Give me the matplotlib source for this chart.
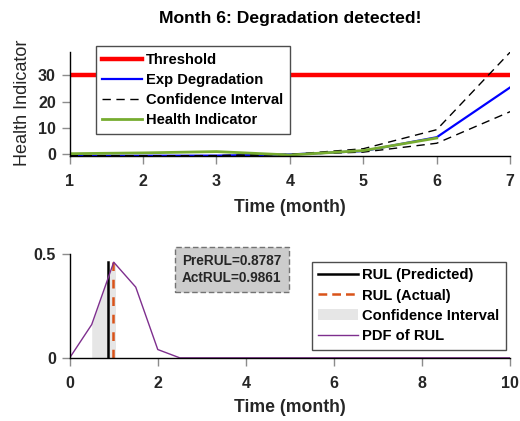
import matplotlib.pyplot as plt
import numpy as np
from matplotlib.patches import Patch
from matplotlib.lines import Line2D

plt.rcParams["font.family"] = ["Liberation Sans", "DejaVu Sans"]

# Górny wykres: degradacja w czasie
months = [1, 2, 3, 4, 5, 6, 7]
threshold = 30
exp_degradation = [-0.8, -0.8, -0.75, -0.3, 1.0, 6.3, 25.4]
ci_upper = [-0.8, -0.8, -0.75, -0.3, 1.9, 9.2, 38.9]
ci_lower = [-0.8, -0.8, -0.75, -0.3, 0.6, 4.0, 16.1]
hi_months = [1, 2, 3, 4, 5, 6]
health_indicator = [0.0, 0.3, 0.8, -0.5, 1.2, 6.0]

# Dolny wykres: rozkład RUL
pdf_x = [0, 0.5, 1.0, 1.5, 2.0, 2.5, 10]
pdf_y = [0, 0.16, 0.46, 0.34, 0.04, 0, 0]
rul_pred = 0.8787
rul_act = 0.9861
ci_low, ci_high = 0.5, 1.04

GREEN = (0.466, 0.674, 0.188)
ORANGE = (0.85, 0.325, 0.098)
PURPLE = (0.494, 0.184, 0.556)
TXT = (0.15, 0.15, 0.15)

fig = plt.figure(figsize=(5.2, 4.21), dpi=100)
ax1 = fig.add_axes([0.134, 0.630, 0.847, 0.246])
ax2 = fig.add_axes([0.134, 0.150, 0.847, 0.247])


def style(ax):
    for s in ("top", "right"):
        ax.spines[s].set_visible(False)
    for s in ("left", "bottom"):
        ax.spines[s].set_color("black")
        ax.spines[s].set_linewidth(1)
    ax.tick_params(direction="out", length=6, width=1, color="0.55",
                   labelsize=11.5, labelcolor=TXT)
    ax.tick_params(axis="x", pad=7)
    ax.tick_params(axis="y", pad=4)
    for lab in ax.get_xticklabels() + ax.get_yticklabels():
        lab.set_fontweight("bold")


def legend_at(ax, handles, labels, x_px, y_px):
    leg = ax.legend(handles, labels, loc="upper left",
                    bbox_to_anchor=(x_px / 520, 1 - y_px / 421),
                    bbox_transform=fig.transFigure, fancybox=False,
                    prop={"weight": "bold", "size": 10.6}, handlelength=2.7,
                    handletextpad=0.25, labelspacing=0.42, borderpad=0.45,
                    borderaxespad=0, framealpha=1)
    leg.get_frame().set_edgecolor("0.3")
    leg.get_frame().set_linewidth(1)
    return leg


# --- górny ---
ax1.plot([months[0], months[-1]], [threshold, threshold], color="red", lw=3.2)
ax1.plot(months, exp_degradation, color="blue", lw=1.6)
ax1.plot(months, ci_upper, color="black", lw=1, dashes=(6, 4))
ax1.plot(months, ci_lower, color="black", lw=1, dashes=(6, 4))
ax1.plot(hi_months, health_indicator, color=GREEN, lw=2)
ax1.set_xlim(1, 7)
ax1.set_ylim(-0.8, 38.9)
ax1.set_xticks(months)
ax1.set_yticks([0, 10, 20, 30])
style(ax1)
ax1.set_title("Month 6: Degradation detected!", fontsize=12.6,
              fontweight="bold", pad=21, color="black")
ax1.set_xlabel("Time (month)", fontsize=12.7, fontweight="bold", color=TXT)
ax1.xaxis.set_label_coords(0.5, -0.42)
ax1.set_ylabel("Health Indicator", fontsize=13, color=TXT)
ax1.yaxis.set_label_coords(-0.088, 0.51)

h1 = [
    Line2D([], [], color="red", lw=3.2),
    Line2D([], [], color="blue", lw=1.6),
    Line2D([], [], color="black", lw=1, dashes=(6, 4)),
    Line2D([], [], color=GREEN, lw=2),
]
legend_at(ax1, h1, ["Threshold", "Exp Degradation", "Confidence Interval",
                    "Health Indicator"], 95.7, 46.3)

# --- dolny ---
xs = np.linspace(ci_low, ci_high, 50)
ax2.fill_between(xs, 0, np.interp(xs, pdf_x, pdf_y), color="0.9", lw=0)
peak = max(pdf_y)
ax2.plot([rul_pred, rul_pred], [0, peak], color="black", lw=1.8)
ax2.plot([rul_act, rul_act], [0, peak], color=ORANGE, lw=1.8, dashes=(3.5, 3.5))
ax2.plot(pdf_x, pdf_y, color=PURPLE, lw=1)
ax2.set_xlim(0, 10)
ax2.set_ylim(0, 0.5)
ax2.set_xticks([0, 2, 4, 6, 8, 10])
ax2.set_yticks([0, 0.5])
ax2.set_yticklabels(["0", "0.5"])
style(ax2)
ax2.set_xlabel("Time (month)", fontsize=12.7, fontweight="bold", color=TXT)
ax2.xaxis.set_label_coords(0.5, -0.40)

ax2.text(0.255, 0.85, f"PreRUL={rul_pred:.4f}\nActRUL={rul_act:.4f}",
         transform=ax2.transAxes, fontsize=9.8, fontweight="bold", color=TXT,
         ha="left", va="center", linespacing=1.25,
         bbox=dict(boxstyle="square,pad=0.55", fc="0.8", ec="0.45",
                   ls=(0, (4, 2)), lw=1))

h2 = [
    Line2D([], [], color="black", lw=1.8),
    Line2D([], [], color=ORANGE, lw=1.8, dashes=(3.5, 2)),
    Patch(facecolor="0.9", edgecolor="none"),
    Line2D([], [], color=PURPLE, lw=1),
]
legend_at(ax2, h2, ["RUL (Predicted)", "RUL (Actual)", "Confidence Interval",
                    "PDF of RUL"], 311.7, 261.7)

fig.savefig("out.png", dpi=100)
